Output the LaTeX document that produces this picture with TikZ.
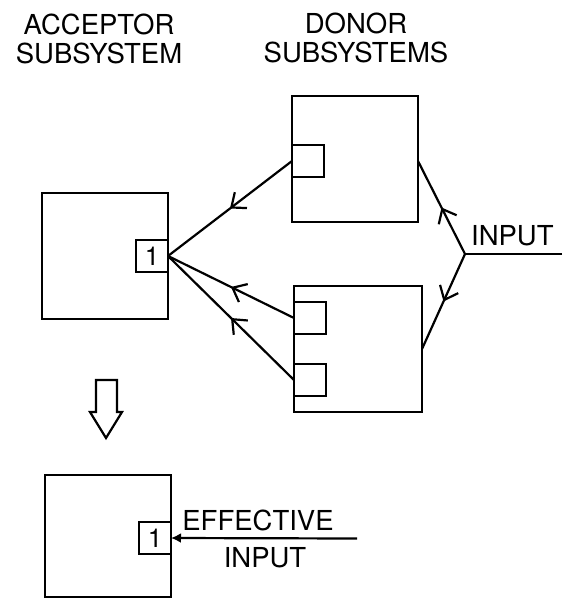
\documentclass[tikz,border=0pt]{standalone}
\usepackage{fontspec}
\setmainfont{TeX Gyre Heros}
\usetikzlibrary{arrows.meta,decorations.markings}

\begin{document}
\begin{tikzpicture}[
  x=1pt, y=-1pt,
  line width=2.2pt,
  sys/.style={draw, minimum size=126pt, inner sep=0pt, outer sep=0pt, anchor=north west},
  port/.style={draw, minimum size=32pt, inner sep=0pt, outer sep=0pt,
               font=\fontsize{26}{26}\selectfont},
  lab/.style={font=\fontsize{27.5}{29}\selectfont, inner sep=0pt},
  midarrow/.style={postaction={decorate, decoration={markings,
      mark=at position 0.5 with {\arrow{Straight Barb[length=12pt, width=20pt, line width=2.2pt]}}}}},
]
\useasboundingbox (0,0) rectangle (562,599);

% ---- headings ---------------------------------------------------------------
\node[lab, align=center] (acctitle) at (99,39) {ACCEPTOR\\SUBSYSTEM};
\node[lab, align=center] (dontitle) at (356,38) {DONOR\\SUBSYSTEMS};

% ---- subsystems ---------------------------------------------------------------
\node[sys] (acc)  at (42,193)  {};
\node[sys] (don1) at (292,96)  {};
\node[sys, minimum width=128pt] (don2) at (294,286) {};
\node[sys, minimum height=122pt] (eff) at (45,475) {};

% ports: the acceptor's site 1 and the donors' outlets
\node[port, anchor=east] (acc1) at (acc.east) {1};
\node[port, anchor=north west] (dp1) at ([yshift=-49pt]don1.north west) {};
\node[port, anchor=north west] (dp2) at ([yshift=-16pt]don2.north west) {};
\node[port, anchor=north west] (dp3) at ([yshift=-78pt]don2.north west) {};
\node[port, anchor=north east] (eff1) at ([yshift=-47pt]eff.north east) {1};

% ---- outside input feeding both donors -----------------------------------------
\coordinate (fork)  at (465,254);
\coordinate (inend) at (562,254);
\draw (inend) -- (fork);
\node[lab, anchor=base west] (inlab) at (470,245) {INPUT};
\draw[midarrow] (fork) -- (don1.east |- dp1.west);
\draw[midarrow] (fork) -- (don2.east);

% donors pass their outputs on to site 1
\foreach \p in {dp1, dp2, dp3}
  \draw[midarrow] (\p.west) -- (acc1.east);

% ---- reduced picture ------------------------------------------------------------
\draw[line join=miter] (96,380) -- (117,380) -- (117,412) -- (122,412)
      -- (106,438) -- (90,412) -- (96,412) -- cycle;

\coordinate (effsrc) at (357,538.5);
\draw[-{Latex[length=10pt, width=10pt]}] (effsrc) -- (eff1.east);
\node[lab, anchor=base] (efflab)  at (258,530) {EFFECTIVE};
\node[lab, anchor=base] (efflab2) at (265,567) {INPUT};
\end{tikzpicture}
\end{document}
